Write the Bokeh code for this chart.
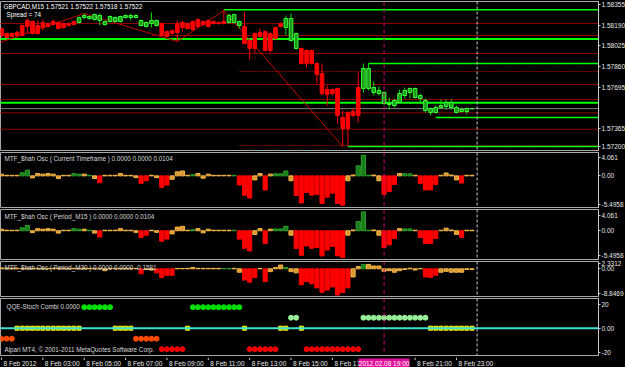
from bokeh.plotting import figure
from bokeh.layouts import column
from bokeh.models import Range1d, FixedTicker, Span, Label
from bokeh.embed import file_html
from bokeh.resources import INLINE
from bokeh.core.properties import value

FONT = "Liberation Sans"

# ---------------- data ----------------
bars = list(range(92))
opens = [1.58163,1.58123,1.58123,1.58131,1.58187,1.58227,1.58219,1.58187,1.58211,1.58203,
         1.58219,1.58211,1.58203,1.58203,1.58219,1.58211,1.58251,1.58243,1.58235,1.58227,
         1.58195,1.58219,1.58219,1.58219,1.58251,1.58251,1.58251,1.58187,1.58179,1.58203,
         1.58187,1.58203,1.58139,1.58147,1.58203,1.58211,1.58203,1.58219,1.58235,1.58219,
         1.58227,1.58219,1.58211,1.58219,1.58211,1.58211,1.58187,1.58179,1.58067,1.58123,
         1.58131,1.58139,1.58123,1.58171,1.58203,1.58171,1.58067,1.58003,1.58003,1.57987,
         1.57987,1.57883,1.57803,1.57675,1.57675,1.57683,1.57451,1.57491,1.57499,1.57691,
         1.57683,1.57683,1.57651,1.57643,1.57563,1.57555,1.57547,1.57571,1.57627,1.57651,
         1.57611,1.57603,1.57507,1.57491,1.57491,1.57531,1.57539,1.57531,1.57491,1.57499,
         1.57499,1.57521]
closes = [1.58107,1.58091,1.58099,1.58107,1.58107,1.58179,1.58123,1.58123,1.58171,1.58179,
          1.58195,1.58163,1.58171,1.58187,1.58195,1.58251,1.58267,1.58259,1.58275,1.58267,
          1.58219,1.58259,1.58251,1.58259,1.58267,1.58267,1.58267,1.58227,1.58211,1.58227,
          1.58227,1.58107,1.58099,1.58123,1.58131,1.58171,1.58163,1.58155,1.58179,1.58195,
          1.58179,1.58203,1.58203,1.58203,1.58267,1.58275,1.58219,1.58043,1.58003,1.58003,
          1.58099,1.57987,1.57987,1.58083,1.58179,1.58243,1.58243,1.58123,1.57883,1.57883,
          1.57883,1.57795,1.57643,1.57635,1.57643,1.57467,1.57363,1.57363,1.57467,1.57467,
          1.57843,1.57843,1.57691,1.57667,1.57651,1.57563,1.57587,1.57643,1.57667,1.57683,
          1.57683,1.57627,1.57587,1.57523,1.57531,1.57547,1.57571,1.57571,1.57531,1.57515,
          1.57523,1.57522]
highs = [1.58171,1.58131,1.58131,1.58147,1.58195,1.58243,1.58227,1.58227,1.58235,1.58211,
         1.58235,1.58219,1.58211,1.58211,1.58227,1.58259,1.58283,1.58267,1.58283,1.58283,
         1.58227,1.58267,1.58259,1.58267,1.58275,1.58283,1.58275,1.58235,1.58219,1.58291,
         1.58235,1.58211,1.58147,1.58155,1.58227,1.58227,1.58211,1.58227,1.58243,1.58227,
         1.58235,1.58227,1.58219,1.58307,1.58283,1.58283,1.58227,1.58291,1.58075,1.58131,
         1.58163,1.58147,1.58131,1.58179,1.58211,1.58267,1.58283,1.58131,1.58011,1.57995,
         1.57995,1.57891,1.57883,1.57707,1.57683,1.57691,1.57507,1.57499,1.57531,1.57811,
         1.57883,1.57883,1.57739,1.57699,1.57659,1.57611,1.57603,1.57675,1.57691,1.57691,
         1.57691,1.57643,1.57603,1.57531,1.57547,1.57595,1.57595,1.57595,1.57547,1.57531,
         1.57531,1.57522]
lows = [1.58091,1.58083,1.58091,1.58091,1.58099,1.58123,1.58115,1.58115,1.58147,1.58171,
        1.58187,1.58155,1.58163,1.58179,1.58187,1.58203,1.58235,1.58235,1.58227,1.58187,
        1.58187,1.58211,1.58211,1.58211,1.58243,1.58227,1.58243,1.58179,1.58171,1.58171,
        1.58179,1.58099,1.58091,1.58115,1.58059,1.58139,1.58155,1.58147,1.58171,1.58179,
        1.58171,1.58195,1.58195,1.58195,1.58203,1.58203,1.58163,1.58035,1.57915,1.57963,
        1.58091,1.57979,1.57971,1.58075,1.58171,1.58107,1.58059,1.57995,1.57875,1.57851,
        1.57875,1.57723,1.57627,1.57547,1.57627,1.57403,1.57219,1.57227,1.57451,1.57411,
        1.57651,1.57667,1.57627,1.57627,1.57547,1.57515,1.57531,1.57563,1.57603,1.57603,
        1.57603,1.57571,1.57491,1.57467,1.57483,1.57531,1.57515,1.57515,1.57483,1.57491,
        1.57475,1.57518]

# zigzag swing points (bar index, price)
zz_bar = [-1, 16, 34, 43, 66]
zz_price = [1.58041, 1.58283, 1.58059, 1.58307, 1.57219]

# horizontal levels: price, first bar, kind
lvl_price = [1.58313, 1.58203, 1.58107, 1.58080, 1.57963, 1.57819, 1.57715, 1.57595,
             1.57569, 1.57522, 1.57489, 1.57357, 1.57227, 1.57219, 1.57883, 1.57451]
lvl_start = [43, -2, 29, -2, -2, 46, -2, -2, -2, -2, -2, -2, 46, 67, 71, 84]
lvl_kind = ["g", "r", "r", "G", "r", "d", "r", "r", "G", "k", "r", "r", "d", "g", "g", "g"]

price_ticks = [1.58355, 1.58190, 1.58025, 1.57860, 1.57695, 1.57365, 1.57222]
price_labels = ["1.58355", "1.58190", "1.58025", "1.57860", "1.57695", "1.57365", "1.57200"]
last_price = 1.57522

osc1_val = [0.3,0.1,0.1,0.1,0.55,1.0,-0.35,0.4,0.3,0.4,
            0.3,-0.45,0.1,0.1,0.4,0.3,0.3,0.1,-0.45,-1.2,
            0.1,0.1,0.1,0.4,0.1,0.1,-0.3,-1.3,-0.85,0.1,
            -0.3,-2.0,-1.6,-0.6,0.7,0.85,0.1,0.2,0.4,-0.4,
            0.3,0.1,0.1,0.1,0.1,0.1,-1.6,-3.35,-3.85,-0.7,
            0.4,-2.45,0.3,0.35,0.35,0.85,-0.85,-3.4,-4.7,-2.9,
            -3.35,-3.2,-4.8,-3.7,-3.0,-4.8,-5.1,-0.85,0.15,1.75,
            3.6,0.1,0.15,-0.85,-3.2,-2.7,-1.5,0.4,0.35,0.35,
            0.1,-1.3,-2.45,-2.45,-1.5,0.1,0.5,0.15,-0.7,-1.25,
            0.1,0.1]
osc1_cls = ("ooooggoooo" "ooooggogor" "ooooooorro" "orroooogoo" "ooooogrrro"
            "orogggorrr" "rrrrrrroog" "ggoorrrogg" "orrrroooor" "oo")
osc3_val = [0.3,0.2,0.2,0.15,0.15,0.2,0.15,0.15,0.2,0.15,
            0.15,0.15,0.2,0.15,0.15,0.15,0.2,0.15,0.15,0.15,
            -0.6,0.15,0.15,0.15,0.15,0.15,0.15,-1.6,-0.2,-0.4,
            -1.3,-2.8,-2.1,-2.1,0.1,0.1,0.15,0.4,0.15,0.15,
            0.15,0.15,0.15,0.1,0.1,0.15,-1.1,-3.6,-4.3,-2.8,
            0.1,-4.1,-0.9,0.4,1.2,0.4,-0.9,-1.3,-5.1,-4.1,
            -4.8,-6.1,-7.5,-6.8,-5.8,-8.4,-7.6,-6.1,-2.6,0.7,
            1.4,1.4,0.9,0.9,-0.8,-0.6,-1.1,-0.6,-0.2,0.2,
            -0.4,0.1,-2.6,-2.8,-2.1,-1.1,-0.8,-1.1,-1.1,-1.1,
            -0.2,-0.2]
osc3_cls = ("oooooooooo" "oooooooooo" "oooooooroo" "rrrroooooo" "oooggoorrr"
            "orooogoorr" "rrrrrrrroo" "gooooooooo" "oorrrooooo" "oo")

qqe_state = ("ooo" "yyyyyyyyyyyyy" "gggggg" "yyyy" "ooooo" "rrrrr" "y" "gggggggggg" "y"
             "rrrrrr" "yy" "ll" "y" "rrrrrrrrrrr" "lllllllllllll" "yyyyyyyyy")

time_bars = [0, 8, 16, 24, 32, 40, 48, 56, 64, 80, 88]
time_labels = ["8 Feb 2012", "8 Feb 03:00", "8 Feb 05:00", "8 Feb 07:00", "8 Feb 09:00",
               "8 Feb 11:00", "8 Feb 13:00", "8 Feb 15:00", "8 Feb 17:00", "8 Feb 21:00",
               "8 Feb 23:00"]
cross_bar = 74
cross_label = "2012.02.08 19:00"
shift_bar = 92

# ---------------- layout helpers ----------------
BAR_PX = 5.17
FW = 598
xr = Range1d(-1 / BAR_PX, -1 / BAR_PX + FW / BAR_PX)
AX_SIZE = "6.5px"
TX_SIZE = "6.3px"


def panel(fh, y0, y1, ticks, labels, top=1, bottom=1):
    p = figure(frame_width=FW, frame_height=fh, x_range=xr, y_range=Range1d(y0, y1),
               output_backend="svg", toolbar_location=None, x_axis_location=None,
               y_axis_location="right", min_border_left=0, min_border_right=0,
               min_border_top=top, min_border_bottom=bottom,
               background_fill_color="black", border_fill_color="black",
               outline_line_color="#a8a8a8", outline_line_width=1)
    p.grid.visible = False
    ax = p.yaxis[0]
    ax.ticker = FixedTicker(ticks=ticks)
    ax.major_label_overrides = dict(zip(ticks, labels))
    ax.axis_line_color = "#c8c8c8"
    ax.major_tick_line_color = "#c8c8c8"
    ax.major_tick_out = 2
    ax.major_tick_in = 0
    ax.minor_tick_line_color = None
    ax.major_label_standoff = 1
    ax.major_label_text_color = "#e8e8e8"
    ax.major_label_text_font = FONT
    ax.major_label_text_font_size = AX_SIZE
    p.add_layout(Span(location=cross_bar, dimension="height", line_color="#d0007c",
                      line_dash="4 3", line_width=1))
    p.add_layout(Span(location=shift_bar, dimension="height", line_color="#c8c8c8",
                      line_dash="3 2", line_width=1))
    return p


def txt(p, fh, px, py, s, color="#d8d8d8", size=TX_SIZE):
    x = xr.start + px / BAR_PX
    y = p.y_range.end - py * (p.y_range.end - p.y_range.start) / fh
    p.add_layout(Label(x=x, y=y, text=s, text_color=color, text_font=FONT,
                       text_font_size=size, text_baseline="middle", text_align="left"))


# ---------------- main price panel ----------------
MH = 149
main = panel(MH, 1.57187, 1.58379, price_ticks, price_labels)

x_end = 130
styles = {"r": ("#8c0000", 1.2, "solid"), "d": ("#8c0000", 1.0, "2 1"),
          "g": ("#00ff00", 1.5, "solid"), "G": ("#00ff00", 2.0, "solid"),
          "k": ("#808080", 1.0, "solid")}
for kind, (c, w, dash) in styles.items():
    idx = [i for i, k in enumerate(lvl_kind) if k == kind]
    main.segment(x0=[lvl_start[i] for i in idx], y0=[lvl_price[i] for i in idx],
                 x1=[x_end] * len(idx), y1=[lvl_price[i] for i in idx],
                 line_color=c, line_width=w, line_dash=dash)

main.line(zz_bar, zz_price, line_color="#c00000", line_width=1)

up = [c >= o for o, c in zip(opens, closes)]
wick_col = ["#00dd00" if u else "#ff0000" for u in up]
body_fill = ["#1f9a1f" if u else "#ff0000" for u in up]
body_line = ["#33ff33" if u else "#ff0000" for u in up]
main.segment(x0=bars, y0=highs, x1=bars, y1=lows, line_color=wick_col, line_width=1)
main.vbar(x=bars, top=[max(o, c) for o, c in zip(opens, closes)],
          bottom=[min(o, c) for o, c in zip(opens, closes)], width=0.7,
          fill_color=body_fill, line_color=body_line, line_width=1)

main.add_layout(Label(x=xr.end, y=last_price, x_offset=2, text=f"{last_price:.5f}",
                      text_color="black", background_fill_color="white",
                      text_font=FONT, text_font_size=AX_SIZE, text_baseline="middle"))
txt(main, MH, 3, 5, "GBPCAD,M15  1.57521 1.57522 1.57518 1.57522", color="#ffffff")
txt(main, MH, 6, 13, "Spread = 74", color="#ffffff")

# ---------------- oscillators ----------------
osc_colors = {"r": ("#ff0000", "#ff0000"), "g": ("#1c7c1c", "#2aa02a"),
              "o": ("#dc9830", "#f4b848")}


def osc_bars(p, vals, cls):
    p.vbar(x=bars, top=[max(v, 0) for v in vals], bottom=[min(v, 0) for v in vals],
           width=0.8, fill_color=[osc_colors[c][0] for c in cls],
           line_color=[osc_colors[c][1] for c in cls], line_width=1)


O1H = 55
osc1 = panel(O1H, -5.4958, 4.061, [3.14, 0, -4.92], ["4.061", "0.00", "-5.4958"])
osc_bars(osc1, osc1_val, osc1_cls)
txt(osc1, O1H, 4, 6, "MTF_$hah Osc ( Current Timeframe )  0.0000 0.0000 0.0104")

O2H = 50
osc2 = panel(O2H, -5.4958, 4.061, [2.91, 0, -4.73], ["4.061", "0.00", "-5.4958"])
osc_bars(osc2, osc1_val, osc1_cls)
txt(osc2, O2H, 4, 7, "MTF_$hah Osc ( Period_M15 )  0.0000 0.0000 0.0104")

O3H = 35
osc3 = panel(O3H, -8.8469, 2.3312, [1.79, 0, -7.98], ["2.3312", "0.00", "-8.8469"])
osc_bars(osc3, osc3_val, osc3_cls)
txt(osc3, O3H, 4, 6, "MTF_$hah Osc ( Period_M30 )  0.0000 0.0000 -0.1581")

# ---------------- QQE ----------------
QH = 57
qqe = panel(QH, -22.75, 24.75, [20, 0, -20], ["20", "0.00", "-20"])
qqe.add_layout(Span(location=0, dimension="width", line_color="#40e0d0", line_width=2))
lvl = {"g": 17.5, "l": 8.75, "y": 0.0, "o": -8.75, "r": -17.5}
dot_col = {"g": "#00e000", "l": "#98ee98", "y": "#ffff00", "o": "#ff4a00", "r": "#ee0000"}
for s in "glor":
    xs = [i for i, c in enumerate(qqe_state) if c == s]
    qqe.scatter(xs, [lvl[s]] * len(xs), marker="circle", size=5,
                fill_color=dot_col[s], line_color=dot_col[s])
xs = [i for i, c in enumerate(qqe_state) if c == "y"]
qqe.scatter(xs, [0.0] * len(xs), marker="square", size=4, fill_color="#c8c800",
            line_color="#ffff00")
qqe.add_layout(Label(x=xr.end, y=0, x_offset=2, text="0", text_color="black",
                     background_fill_color="#40e0d0", text_font=FONT,
                     text_font_size=AX_SIZE, text_baseline="middle"))
txt(qqe, QH, 6, 8, "QQE-Stoch Combi  0.0000")
txt(qqe, QH, 4, 51, "Alpari MT4, \u00a9 2001-2011 MetaQuotes Software Corp.")

# ---------------- time axis ----------------
tax = figure(frame_width=FW, frame_height=11, x_range=xr, y_range=Range1d(0, 11),
             output_backend="svg", toolbar_location=None, x_axis_location=None,
             y_axis_location=None, min_border_left=0, min_border_right=27,
             min_border_top=0, min_border_bottom=0,
             background_fill_color="black", border_fill_color="black",
             outline_line_color=None)
tax.grid.visible = False
tax.segment(x0=time_bars, y0=[11] * len(time_bars), x1=time_bars, y1=[8.5] * len(time_bars),
            line_color="#c8c8c8", line_width=1)
tax.text(x=time_bars, y=[5] * len(time_bars), text=time_labels, x_offset=2,
         text_baseline="middle", text_align="left", text_font=value(FONT),
         text_font_size="6.5px", text_color="#e8e8e8")
tax.rect(x=[cross_bar], y=[5.5], width=50 / BAR_PX, height=8, fill_color="#e0109a",
         line_color="#e0109a")
tax.text(x=[cross_bar], y=[5.5], text=[cross_label], text_baseline="middle",
         text_align="center", text_font=value(FONT), text_font_size="6.5px",
         text_color="#ffffff")

layout = column(main, osc1, osc2, osc3, qqe, tax, spacing=0,
                styles={"background-color": "black"})
open("out.html", "w").write(file_html(layout, INLINE))
